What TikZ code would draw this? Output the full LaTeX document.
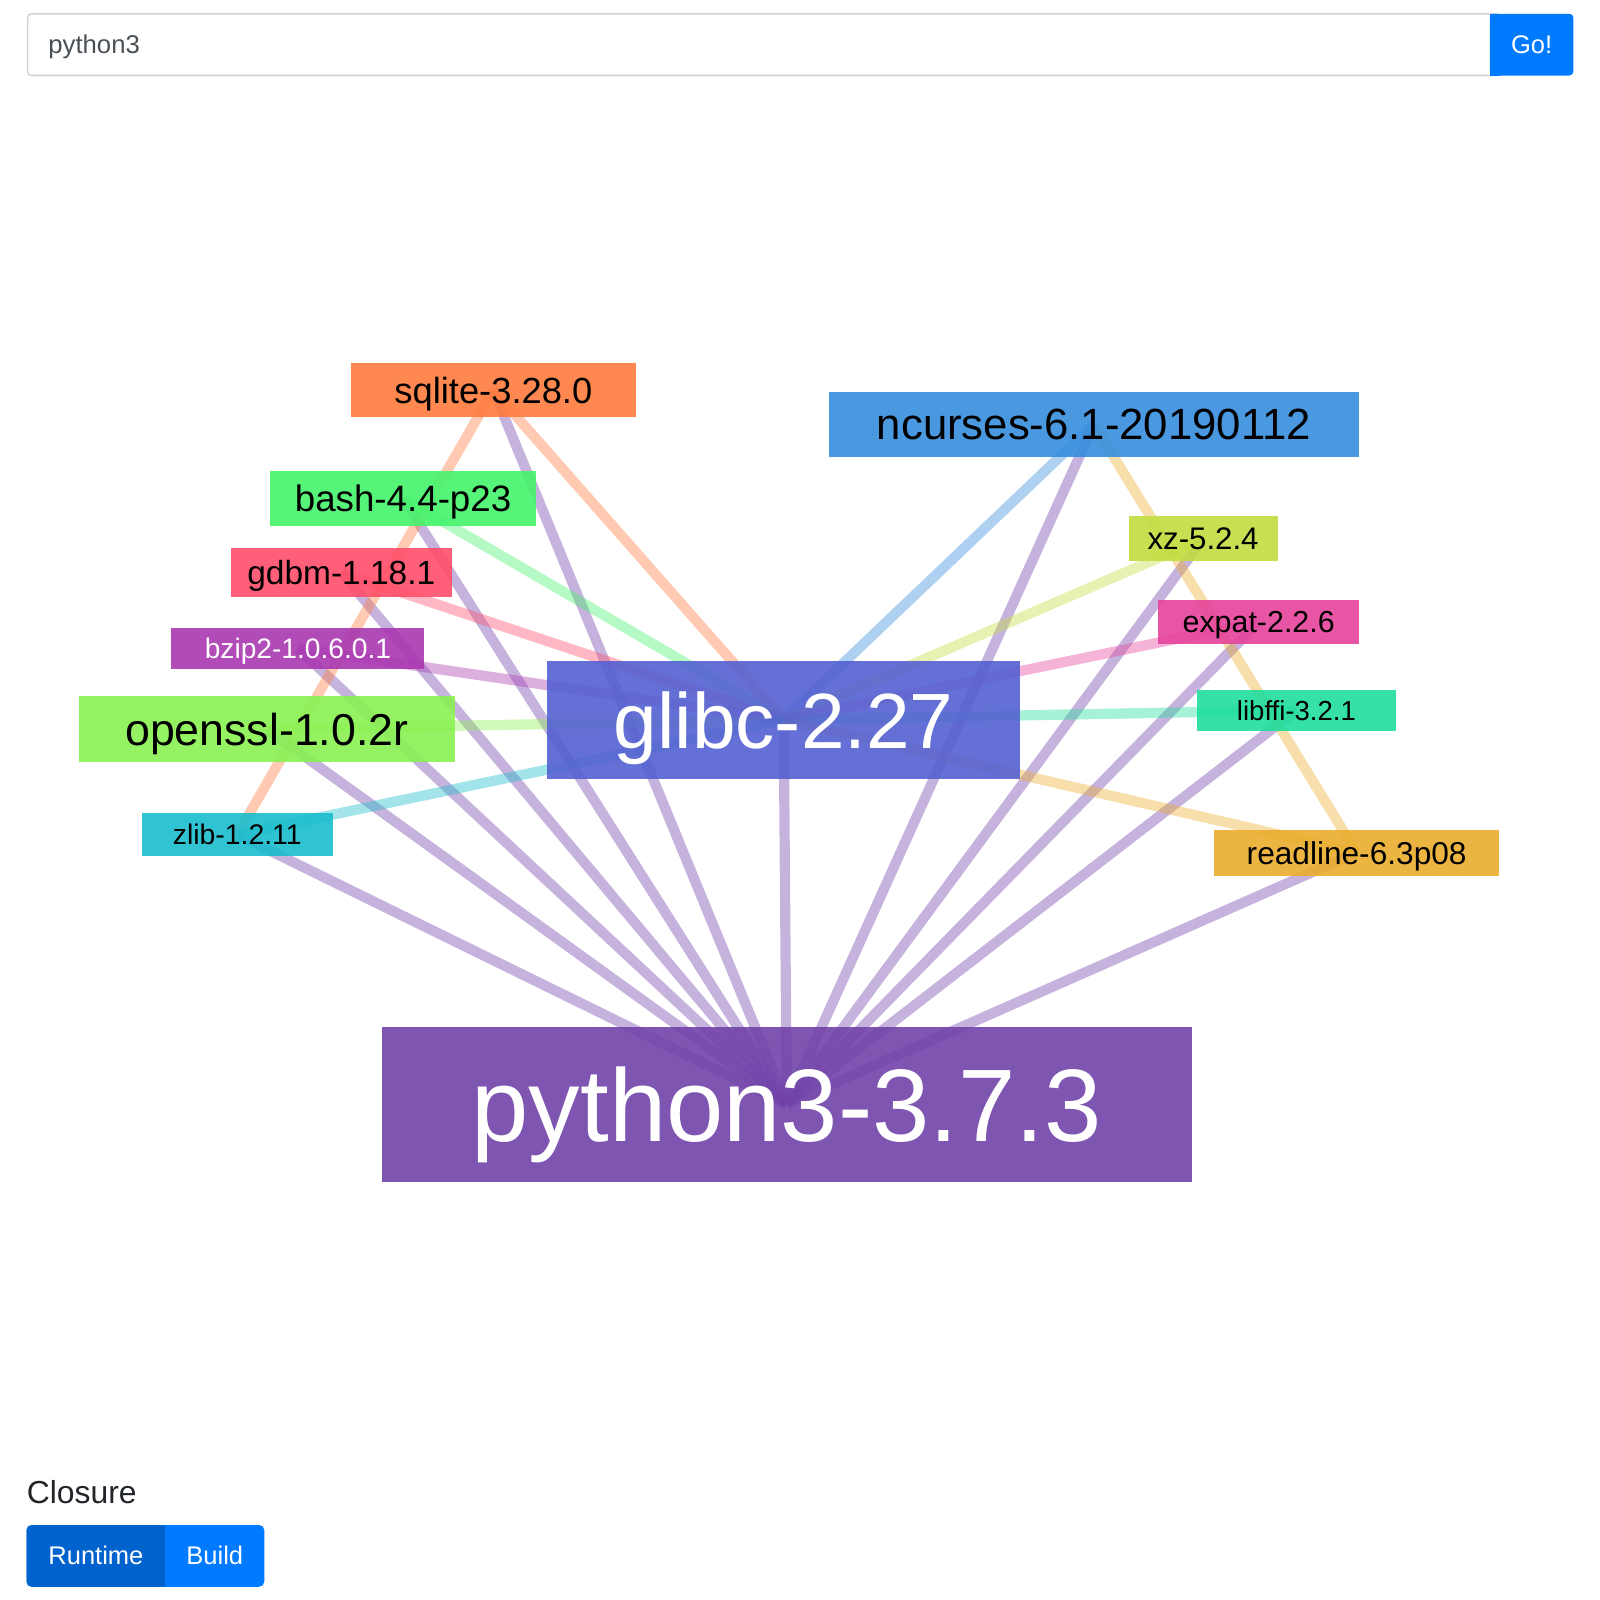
\documentclass[tikz,border=0pt]{standalone}
\usepackage{fontspec}
\setmainfont{Liberation Sans}
\usepackage{tikz}
\definecolor{pycolor}{HTML}{7042A9}
\definecolor{glibccolor}{HTML}{5461D1}
\definecolor{sqlitecolor}{HTML}{FF7B3D}
\definecolor{ncursescolor}{HTML}{368DDD}
\definecolor{bashcolor}{HTML}{45F36B}
\definecolor{gdbmcolor}{HTML}{FF4E69}
\definecolor{bzipcolor}{HTML}{A937B0}
\definecolor{sslcolor}{HTML}{89F151}
\definecolor{zlibcolor}{HTML}{1ABCCC}
\definecolor{xzcolor}{HTML}{C0DD3F}
\definecolor{expatcolor}{HTML}{E5429B}
\definecolor{fficolor}{HTML}{1FDE9C}
\definecolor{rlcolor}{HTML}{EAAD2D}
\definecolor{btncolor}{HTML}{007BFF}
\definecolor{activecolor}{HTML}{0062CC}
\definecolor{bordercolor}{HTML}{CED4DA}
\definecolor{querycolor}{HTML}{495057}
\definecolor{headcolor}{HTML}{212529}
\newcommand\fs[1]{\fontsize{#1pt}{#1pt}\selectfont}
\tikzstyle{pkg}=[rectangle,inner sep=0pt,text depth=0pt,fill opacity=.9,text opacity=1]
\tikzstyle{dep}=[line width=5pt,draw opacity=.4]
\tikzstyle{ui} =[inner sep=0pt,text depth=0pt]
\pgfdeclarelayer{bg}
\pgfsetlayers{bg,main}

\begin{document}
\begin{tikzpicture}[x=.5pt,y=-.5pt]
	\useasboundingbox (0,0) rectangle (1568,1568);
	% search bar
	\draw[line width=.75pt,draw=bordercolor,rounded corners=2pt] (27,13.5) rectangle (1470,74);
	\fill[btncolor,rounded corners=2pt] (1460,13.5) rectangle (1542,74);
	\fill[btncolor] (1460,13.5) rectangle (1470,74);
	\node[ui,anchor=base west,text=querycolor,font=\fs{12.6}] (query) at (47,52.3) {python3};
	\node[ui,anchor=base,text=white,font=\fs{12.5}] (go) at (1501,52.3) {Go!};

	% packages
	\node[pkg,fill=pycolor,text=white,minimum width=397pt,minimum height=76pt,font=\fs{50.5}] (python) at (771,1082) {python3-3.7.3};
	\node[pkg,fill=glibccolor,text=white,minimum width=232pt,minimum height=57.5pt,font=\fs{38.4}] (glibc) at (768,705.5) {glibc-2.27};
	\node[pkg,fill=sqlitecolor,minimum width=139.5pt,minimum height=26.5pt,font=\fs{17.8}] (sqlite) at (483.5,382.5) {sqlite-3.28.0};
	\node[pkg,fill=ncursescolor,minimum width=260pt,minimum height=32pt,font=\fs{21.4}] (ncurses) at (1072,416) {ncurses-6.1-20190112};
	\node[pkg,fill=bashcolor,minimum width=130pt,minimum height=26.5pt,font=\fs{18}] (bash) at (395,488.5) {bash-4.4-p23};
	\node[pkg,fill=gdbmcolor,minimum width=108.5pt,minimum height=24pt,font=\fs{16.4}] (gdbm) at (334.5,561) {gdbm-1.18.1};
	\node[pkg,fill=bzipcolor,text=white,minimum width=124pt,minimum height=20.5pt,font=\fs{13.8}] (bzip2) at (292,635.5) {bzip2-1.0.6.0.1};
	\node[pkg,fill=sslcolor,minimum width=184.5pt,minimum height=32.5pt,font=\fs{21.9}] (openssl) at (261.5,714.5) {openssl-1.0.2r};
	\node[pkg,fill=zlibcolor,minimum width=93.5pt,minimum height=21pt,font=\fs{13.9}] (zlib) at (232.5,818) {zlib-1.2.11};
	\node[pkg,fill=xzcolor,minimum width=73pt,minimum height=22pt,font=\fs{15.3}] (xz) at (1179,528) {xz-5.2.4};
	\node[pkg,fill=expatcolor,minimum width=98.5pt,minimum height=21.5pt,font=\fs{14.9}] (expat) at (1233.5,609.5) {expat-2.2.6};
	\node[pkg,fill=fficolor,minimum width=97.5pt,minimum height=20pt,font=\fs{13.5}] (libffi) at (1270.5,696) {libffi-3.2.1};
	\node[pkg,fill=rlcolor,minimum width=139.5pt,minimum height=22.5pt,font=\fs{15.5}] (readline) at (1329.5,835.5) {readline-6.3p08};

	% dependencies
	\begin{pgfonlayer}{bg}
	\foreach \d in {sqlite,ncurses,bash,gdbm,bzip2,openssl,zlib,glibc,xz,expat,libffi,readline}
		\draw[dep,pycolor] (python.center) -- (\d.center);
	\draw[dep,sqlitecolor] (sqlite.center) -- (glibc.center);
	\draw[dep,sqlitecolor] (sqlite.center) -- (zlib.center);
	\draw[dep,bashcolor] (bash.center) -- (glibc.center);
	\draw[dep,gdbmcolor] (gdbm.center) -- (glibc.center);
	\draw[dep,bzipcolor] (bzip2.center) -- (glibc.center);
	\draw[dep,sslcolor] (openssl.center) -- (glibc.center);
	\draw[dep,zlibcolor] (zlib.center) -- (glibc.center);
	\draw[dep,ncursescolor] (ncurses.center) -- (glibc.center);
	\draw[dep,xzcolor] (xz.center) -- (glibc.center);
	\draw[dep,expatcolor] (expat.center) -- (glibc.center);
	\draw[dep,fficolor] (libffi.center) -- (glibc.center);
	\draw[dep,rlcolor] (readline.center) -- (glibc.center);
	\draw[dep,rlcolor] (readline.center) -- (ncurses.center);
	\end{pgfonlayer}

	% closure switch
	\node[ui,anchor=base west,text=headcolor,font=\fs{15.6}] (closure) at (26,1473) {Closure};
	\fill[btncolor,rounded corners=2.5pt] (26,1494.5) rectangle (259,1555);
	\fill[activecolor,rounded corners=2.5pt] (26,1494.5) rectangle (172,1555);
	\fill[btncolor] (162,1494.5) rectangle (172,1555);
	\node[ui,text=white,font=\fs{12.5}] (runtime) at (94,1524.5) {Runtime};
	\node[ui,text=white,font=\fs{12.5}] (build) at (210.5,1524.5) {Build};
\end{tikzpicture}
\end{document}
